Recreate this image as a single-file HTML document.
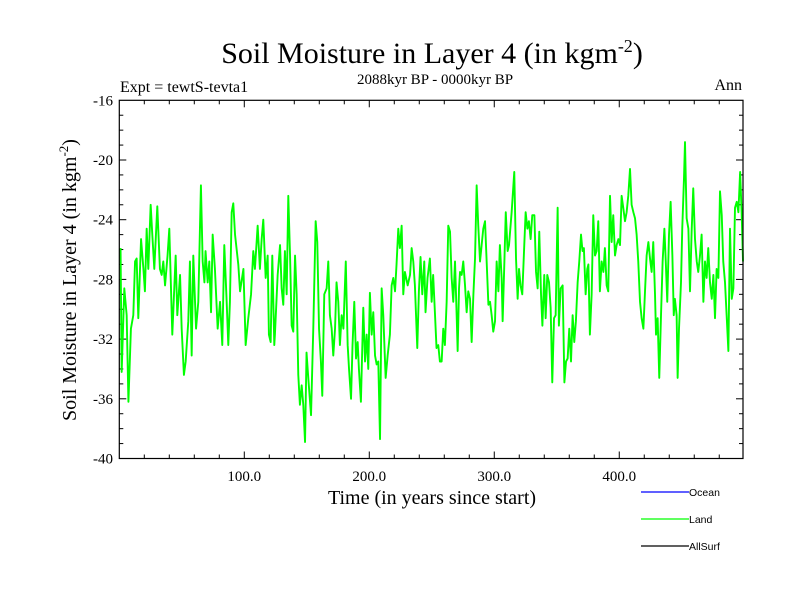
<!DOCTYPE html>
<html>
<head>
<meta charset="utf-8">
<style>
  html,body{margin:0;padding:0;background:#fff;}
  svg{display:block;}
  .serif{font-family:"Liberation Serif",serif;}
  .sans{font-family:"Liberation Sans",sans-serif;}
</style>
</head>
<body>
<svg id="chart" width="800" height="600" viewBox="0 0 800 600" xmlns="http://www.w3.org/2000/svg">
  <rect x="0" y="0" width="800" height="600" fill="#fff"/>
  <text class="serif" x="432" y="63" font-size="30" text-anchor="middle">Soil Moisture in Layer 4 (in kgm<tspan dy="-11" font-size="18">-2</tspan><tspan dy="11">)</tspan></text>
  <text class="serif" x="120" y="92" font-size="16">Expt = tewtS-tevta1</text>
  <text class="serif" x="435" y="84" font-size="15" text-anchor="middle">2088kyr BP - 0000kyr BP</text>
  <text class="serif" x="742" y="90" font-size="16" text-anchor="end">Ann</text>
  <g id="ticks"></g>
  <g id="series"></g>
  <rect id="frame" fill="none" stroke="#000" stroke-width="1.2"/>
  <text class="serif" x="432" y="504" font-size="20" text-anchor="middle">Time (in years since start)</text>
  <text class="serif" font-size="20" text-anchor="middle" transform="translate(76,280) rotate(-90)">Soil Moisture in Layer 4 (in kgm<tspan dy="-8" font-size="13">-2</tspan><tspan dy="8">)</tspan></text>
  <g>
    <g>
      <line x1="641" y1="492" x2="689" y2="492" stroke="#0000ff" stroke-width="1.3"/>
      <text class="sans" x="689" y="496" font-size="10.5">Ocean</text>
    </g>
    <g>
      <line x1="641" y1="519" x2="689" y2="519" stroke="#00ff00" stroke-width="1.3"/>
      <text class="sans" x="689" y="523" font-size="10.5">Land</text>
    </g>
    <g>
      <line x1="641" y1="546" x2="689" y2="546" stroke="#000" stroke-width="1.3"/>
      <text class="sans" x="689" y="550" font-size="10.5">AllSurf</text>
    </g>
  </g>
</svg>
<script>
const years = [1.0,1.9,4.0,5.9,7.3,9.3,11.2,12.6,13.9,15.2,17.4,19.3,20.5,21.9,23.2,25.1,26.4,28.0,30.4,32.5,33.9,35.2,36.6,38.6,40.0,42.4,45.1,46.4,48.6,49.9,51.7,53.1,55.2,56.5,57.9,59.2,61.4,63.2,65.3,66.7,68.1,69.0,70.7,72.0,73.4,74.7,76.5,78.7,80.6,82.4,84.0,85.9,87.2,88.5,89.9,91.2,92.6,95.2,96.6,99.3,101.1,103.2,105.4,107.2,108.5,110.7,112.5,113.9,115.2,117.1,118.7,119.7,121.1,122.4,124.0,
124.5,126.7,128.6,129.9,131.2,132.5,133.9,135.2,136.6,137.9,139.2,140.6,141.9,143.2,144.5,145.9,147.2,148.6,149.8,151.2,153.4,155.2,157.1,158.4,159.8,161.3,162.4,164.0,165.9,167.2,168.5,169.9,171.2,172.6,173.8,175.2,176.5,177.9,179.3,181.2,182.7,183.8,185.4,186.6,188.0,189.4,190.7,191.7,193.3,195.2,196.6,197.9,199.2,200.5,201.9,203.2,204.6,205.9,207.2,208.6,209.9,211.2,213.1,214.7,216.5,217.9,219.2,220.6,221.8,223.2,224.5,225.9,227.2,228.5,230.7,232.6,233.9,235.2,236.5,238.4,239.7,241.0,242.4,244.0,245.0,246.6,248.5,249.9,251.1,252.5,253.8,255.2,256.5,
257.9,259.2,260.5,261.9,263.2,264.6,265.9,267.2,268.6,269.9,270.7,271.8,272.6,273.9,275.2,276.6,277.9,279.2,280.6,281.9,283.3,284.6,285.9,287.2,288.6,289.9,291.2,292.6,293.9,295.3,296.6,297.9,299.2,300.6,301.9,303.3,304.5,305.9,306.7,308.1,309.2,310.7,311.8,313.9,316.0,317.4,318.7,319.8,321.0,322.4,324.0,325.1,326.5,327.7,329.1,330.4,332.1,333.4,334.7,336.0,337.4,338.5,340.0,341.1,342.4,343.8,345.1,346.4,347.8,349.1,350.7,351.7,353.1,354.7,356.1,357.4,358.7,360.0,361.4,362.7,364.0,365.3,366.7,368.0,369.4,370.6,371.7,373.1,374.4,375.3,376.5,377.9,379.2,380.6,381.9,383.2,384.5,
385.9,387.3,388.5,389.9,391.2,392.6,393.9,395.2,396.6,397.9,399.3,400.6,401.9,403.2,404.6,405.9,407.2,408.6,409.9,411.3,412.6,413.9,415.2,416.6,417.9,419.3,420.6,421.9,423.3,424.6,425.9,427.2,428.6,429.4,430.7,432.0,433.4,434.7,436.1,437.2,438.4,439.8,441.1,442.5,443.6,444.5,445.9,446.7,447.8,449.4,450.4,451.8,452.6,453.9,455.3,456.6,457.9,459.2,460.6,462.0,463.2,464.6,465.9,467.3,468.6,469.9,471.2,472.6,474.0,475.3,476.6,477.9,479.3,480.6,482.0,483.2,484.6,485.9,487.3,488.6,490.0,491.3,492.6,494.0,495.3,496.7,497.9,499.0];

const landValues = [-25.9,-34.2,-28.6,-30.4,-36.2,-31.3,-30.4,-26.8,-26.6,-30.6,-25.3,-27.3,-28.8,-24.6,-27.3,-23.0,-25.0,-27.3,-23.1,-27.3,-27.7,-26.8,-28.4,-26.4,-24.6,-31.7,-26.4,-30.4,-27.7,-31.3,-34.4,-33.5,-30.8,-26.8,-33.1,-26.4,-31.3,-29.5,-21.7,-26.8,-28.2,-26.1,-28.2,-26.8,-30.2,-25.0,-27.3,-31.3,-29.5,-32.4,-25.7,-29.5,-32.4,-29.5,-23.5,-22.9,-25.0,-27.0,-28.8,-27.3,-32.4,-30.6,-29.0,-26.1,-27.3,-24.4,-27.3,-25.3,-24.0,-27.9,-26.4,-31.7,-32.2,-26.4,-32.4,
-31.7,-27.7,-25.7,-28.6,-29.7,-26.1,-29.0,-22.4,-26.4,-31.1,-31.5,-26.4,-29.0,-34.4,-36.4,-35.1,-36.4,-38.9,-32.9,-34.6,-37.1,-31.3,-24.1,-25.5,-31.3,-33.5,-35.8,-29.0,-28.6,-26.8,-30.4,-31.3,-33.1,-31.3,-28.2,-29.5,-32.4,-30.4,-31.3,-26.8,-32.4,-34.0,-36.0,-32.4,-29.5,-33.3,-32.2,-34.0,-36.2,-29.9,-33.5,-31.7,-34.0,-28.9,-31.7,-30.2,-33.1,-33.7,-33.5,-38.7,-28.6,-30.4,-34.6,-33.1,-31.7,-28.4,-27.9,-28.8,-27.0,-24.6,-25.9,-24.4,-29.0,-27.5,-28.4,-27.7,-25.9,-26.8,-28.4,-32.6,-28.8,-26.5,-29.0,-26.8,-30.2,-27.9,-26.6,-29.5,-27.7,-30.2,-32.6,-32.4,-33.5,
-33.5,-31.3,-32.4,-29.5,-24.4,-24.8,-27.9,-29.5,-26.8,-30.4,-32.8,-28.6,-27.5,-27.7,-26.8,-28.4,-30.2,-28.8,-29.3,-32.2,-29.0,-26.6,-21.7,-24.4,-26.8,-25.7,-24.6,-24.1,-26.8,-29.7,-29.5,-30.4,-31.5,-30.8,-26.8,-28.8,-25.7,-27.9,-30.8,-26.8,-23.5,-26.1,-25.7,-23.5,-20.8,-26.6,-29.3,-27.3,-28.4,-29.0,-25.7,-23.5,-24.6,-24.1,-25.3,-23.7,-23.7,-27.5,-28.6,-24.8,-29.0,-31.1,-27.7,-30.6,-27.7,-28.2,-29.9,-34.9,-30.6,-30.4,-23.2,-31.1,-28.6,-28.4,-34.9,-33.5,-33.3,-31.3,-33.5,-30.4,-32.2,-30.8,-28.2,-26.8,-25.0,-26.1,-25.9,-29.0,-27.3,-27.0,-31.7,-29.0,-23.7,-26.4,-26.1,-24.1,-28.8,
-26.8,-27.5,-25.9,-28.4,-28.8,-22.4,-25.5,-23.7,-26.4,-25.7,-25.3,-25.7,-22.4,-23.2,-24.1,-23.5,-22.4,-20.6,-23.0,-23.5,-23.9,-25.0,-26.8,-29.5,-30.6,-31.3,-28.8,-26.4,-25.5,-26.6,-27.5,-25.5,-29.0,-31.7,-30.6,-34.6,-30.4,-26.8,-24.6,-26.8,-29.5,-25.0,-22.8,-26.4,-30.4,-29.3,-30.4,-34.6,-31.3,-28.2,-24.6,-21.2,-18.8,-23.9,-24.6,-28.8,-24.8,-21.9,-25.3,-26.8,-27.5,-26.4,-25.0,-29.5,-26.8,-27.9,-25.9,-28.2,-29.3,-27.7,-30.6,-27.3,-27.9,-22.1,-23.7,-26.8,-28.2,-30.4,-32.8,-24.6,-29.3,-28.6,-23.2,-22.8,-23.5,-20.8,-23.5,-26.8];

const xTickValues = [100, 200, 300, 400];
const xTickLabels = ["100.0", "200.0", "300.0", "400.0"];
const yTickValues = [-16, -20, -24, -28, -32, -36, -40];
const yTickLabels = ["-16", "-20", "-24", "-28", "-32", "-36", "-40"];

const NS = "http://www.w3.org/2000/svg";
const plot = {left: 119.3, right: 743, top: 100.3, bottom: 458.5};
const xMin = 0, xMax = 499, yMin = -40, yMax = -16;
function xScale(v){ return plot.left + (v - xMin) / (xMax - xMin) * (plot.right - plot.left); }
function yScale(v){ return plot.bottom - (v - yMin) / (yMax - yMin) * (plot.bottom - plot.top); }

const frame = document.getElementById('frame');
frame.setAttribute('x', plot.left);
frame.setAttribute('y', plot.top);
frame.setAttribute('width', plot.right - plot.left);
frame.setAttribute('height', plot.bottom - plot.top);

const ticks = document.getElementById('ticks');
function addLine(x1, y1, x2, y2, name){
  const l = document.createElementNS(NS, 'line');
  l.setAttribute('x1', x1); l.setAttribute('y1', y1);
  l.setAttribute('x2', x2); l.setAttribute('y2', y2);
  l.setAttribute('stroke', '#000'); l.setAttribute('stroke-width', '1');
  
  
  ticks.appendChild(l);
}
for (let v = 20; v < xMax; v += 20) {
  const major = v % 100 === 0;
  const len = major ? 7 : 4;
  const x = xScale(v);
  addLine(x, plot.bottom, x, plot.bottom - len, 'x-tick-bottom');
  addLine(x, plot.top, x, plot.top + len, 'x-tick-top');
}
for (let v = yMin + 1; v < yMax; v += 1) {
  const major = (v % 4) === 0;
  const len = major ? 7 : 4;
  const y = yScale(v);
  addLine(plot.left, y, plot.left + len, y, 'y-tick-left');
  addLine(plot.right, y, plot.right - len, y, 'y-tick-right');
}
xTickValues.forEach((v, i) => {
  const t = document.createElementNS(NS, 'text');
  t.setAttribute('x', xScale(v));
  t.setAttribute('y', 481);
  t.setAttribute('font-size', '15');
  t.setAttribute('text-anchor', 'middle');
  t.setAttribute('class', 'serif');
  
  
  t.textContent = xTickLabels[i];
  ticks.appendChild(t);
});
yTickValues.forEach((v, i) => {
  const t = document.createElementNS(NS, 'text');
  t.setAttribute('x', 113);
  t.setAttribute('y', yScale(v) + 5);
  t.setAttribute('font-size', '15');
  t.setAttribute('text-anchor', 'end');
  t.setAttribute('class', 'serif');
  
  
  t.textContent = yTickLabels[i];
  ticks.appendChild(t);
});

const series = document.getElementById('series');
let d = '';
years.forEach((yr, i) => {
  d += (i === 0 ? 'M' : 'L') + xScale(yr).toFixed(2) + ' ' + yScale(landValues[i]).toFixed(2) + ' ';
});
const path = document.createElementNS(NS, 'path');
path.setAttribute('d', d);
path.setAttribute('fill', 'none');
path.setAttribute('stroke', '#00ff00');
path.setAttribute('stroke-width', '1.9');
path.setAttribute('stroke-linejoin', 'round');


series.appendChild(path);
</script>
</body>
</html>
